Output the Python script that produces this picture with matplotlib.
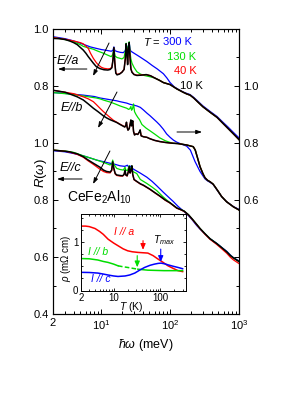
import matplotlib
matplotlib.use('Agg')
import matplotlib.pyplot as plt
from matplotlib.ticker import FixedLocator, FixedFormatter, NullFormatter, LogLocator, MultipleLocator

plt.rcParams['font.family'] = ['Liberation Sans', 'DejaVu Sans']
plt.rcParams['mathtext.fontset'] = 'custom'
plt.rcParams['mathtext.rm'] = 'Liberation Sans'
plt.rcParams['mathtext.it'] = 'Liberation Sans:italic'
plt.rcParams['mathtext.bf'] = 'Liberation Sans:bold'
plt.rcParams['mathtext.fallback'] = 'stixsans'

# ---------------- data: reflectivity spectra ----------------
temps = ['300 K', '130 K', '40 K', '10 K']
colors = ['#0000ff', '#00dd00', '#ff0000', '#000000']

# E // a
wa_tail = [100, 125, 155, 175, 195, 220, 250, 300, 380, 480, 590, 700, 830, 1000]
Ra_tail = [0.805, 0.79, 0.778, 0.772, 0.768, 0.758, 0.745, 0.727, 0.708, 0.69, 0.668, 0.65, 0.632, 0.612]

wa_300 = [2, 3, 4, 5, 6, 7, 8.5, 10, 12, 14, 14.8, 15.3, 15.8, 17, 19, 21, 22.5, 23, 23.6, 24.2, 24.8, 25.5,
          26.2, 27, 30, 36, 46, 55, 65, 80, 90, 100, 115, 130, 155, 175, 195, 220, 250, 300, 380, 480, 590,
          700, 830, 1000]
Ra_300 = [0.973, 0.966, 0.958, 0.95, 0.943, 0.937, 0.932, 0.928, 0.925, 0.922, 0.925, 0.937, 0.924, 0.921,
          0.918, 0.917, 0.925, 0.945, 0.935, 0.925, 0.94, 0.953, 0.93, 0.922, 0.915, 0.903, 0.886, 0.872,
          0.86, 0.843, 0.828, 0.812, 0.797, 0.789, 0.779, 0.774, 0.77, 0.76, 0.748, 0.73, 0.711, 0.693,
          0.672, 0.655, 0.637, 0.618]

wa_130 = [2, 3, 4, 5, 5.5, 6.5, 7.7, 9, 10.8, 12.5, 14, 14.7, 15.3, 15.9, 17, 18.8, 20, 21.5, 22.5, 23, 23.6,
          24.2, 24.8, 25.5, 26.2, 27, 28, 30, 33, 37, 42, 50, 60, 70, 80]
Ra_130 = [0.970, 0.963, 0.955, 0.945, 0.939, 0.934, 0.929, 0.922, 0.915, 0.908, 0.903, 0.91, 0.93, 0.905,
          0.9, 0.897, 0.895, 0.9, 0.925, 0.95, 0.935, 0.91, 0.94, 0.955, 0.92, 0.895, 0.88, 0.865, 0.85,
          0.842, 0.837, 0.833, 0.828, 0.82, 0.812]

wa_40 = [2, 3, 4, 5, 5.5, 6, 6.5, 7, 7.7, 8.5, 9.1, 10, 11, 12.5, 13.5, 14.3, 14.8, 15.3, 15.8, 16.3, 17,
         18.5, 20, 21.5, 22.5, 23, 23.6, 24.2, 24.8, 25.5, 26.2, 27, 28, 30, 33, 38, 45, 52, 60, 70, 80]
Ra_40 = [0.970, 0.964, 0.958, 0.952, 0.948, 0.94, 0.932, 0.915, 0.897, 0.882, 0.874, 0.866, 0.862, 0.86,
         0.861, 0.866, 0.89, 0.932, 0.88, 0.847, 0.841, 0.843, 0.849, 0.858, 0.9, 0.945, 0.92, 0.877, 0.93,
         0.95, 0.9, 0.86, 0.849, 0.841, 0.838, 0.839, 0.84, 0.836, 0.828, 0.82, 0.812]

wa_10 = [2, 2.5, 3, 3.5, 4, 4.5, 5, 5.5, 6, 6.5, 7, 7.7, 8.5, 9.6, 11, 12.5, 13.5, 14.3, 14.8, 15.3, 15.8,
         16.3, 17, 18.5, 20, 21.5, 22.5, 23, 23.6, 24.2, 24.8, 25.5, 26.2, 27, 28, 30, 33, 38, 45, 52, 60,
         70, 80]
Ra_10 = [0.967, 0.966, 0.963, 0.958, 0.952, 0.945, 0.935, 0.926, 0.915, 0.903, 0.893, 0.88, 0.868, 0.861,
         0.857, 0.856, 0.858, 0.864, 0.89, 0.935, 0.88, 0.845, 0.839, 0.842, 0.848, 0.858, 0.9, 0.948, 0.92,
         0.875, 0.93, 0.952, 0.9, 0.86, 0.848, 0.84, 0.837, 0.838, 0.84, 0.836, 0.828, 0.82, 0.812]

# E // b
wb_tail = [111, 130, 174, 217, 232, 250, 272, 300, 321, 350, 380, 420, 450, 500, 560, 660, 830, 1000]
Rb_tail = [0.799, 0.798, 0.793, 0.787, 0.775, 0.748, 0.717, 0.692, 0.678, 0.669, 0.664, 0.656, 0.646, 0.63,
           0.612, 0.594, 0.576, 0.565]

wb_300 = [2, 3, 4, 5.5, 8, 9.6, 13.4, 16.8, 18.8, 23.5, 26, 29.5, 33, 37, 41, 46, 51, 64, 71, 80, 89, 100,
          112, 125, 150, 174, 197, 230, 272, 321, 350, 380, 420, 450, 500, 560, 660, 830, 1000]
Rb_300 = [0.977, 0.974, 0.971, 0.968, 0.963, 0.958, 0.952, 0.948, 0.945, 0.94, 0.936, 0.933, 0.93, 0.925,
          0.916, 0.905, 0.896, 0.874, 0.863, 0.848, 0.832, 0.82, 0.81, 0.803, 0.795, 0.789, 0.775, 0.735,
          0.70, 0.674, 0.667, 0.662, 0.655, 0.645, 0.629, 0.612, 0.594, 0.577, 0.567]

wb_130 = [2, 3, 4, 5.5, 7, 8.5, 9.6, 11, 13.4, 16, 18.8, 21, 23.5, 25, 26, 27, 27.6, 28.5, 29.5, 30.5, 32,
          34, 36, 39, 45, 51, 60, 71, 85, 100]
Rb_130 = [0.977, 0.973, 0.97, 0.965, 0.961, 0.958, 0.955, 0.95, 0.944, 0.937, 0.93, 0.926, 0.922, 0.918,
          0.92, 0.928, 0.915, 0.92, 0.937, 0.91, 0.9, 0.89, 0.882, 0.865, 0.852, 0.843, 0.831, 0.818, 0.808,
          0.802]

wb_40 = [2, 3, 4, 5.5, 6.5, 7.7, 8.5, 9.6, 10.8, 12, 13.4, 15, 16.8, 18.8, 20.5, 22, 22.8, 23.3, 23.8, 24.5,
         25.5, 26.5, 27, 27.6, 28.2, 28.7, 29.5, 30.5, 32, 34, 36, 36.8, 38, 41, 46, 51, 60, 71, 85, 100]
Rb_40 = [0.985, 0.978, 0.973, 0.962, 0.955, 0.945, 0.935, 0.922, 0.91, 0.9, 0.89, 0.88, 0.873, 0.866, 0.861,
         0.857, 0.862, 0.872, 0.856, 0.846, 0.851, 0.869, 0.879, 0.861, 0.87, 0.876, 0.841, 0.829, 0.832,
         0.83, 0.839, 0.845, 0.826, 0.822, 0.82, 0.815, 0.809, 0.805, 0.802, 0.80]

wb_10 = [2, 3, 3.5, 4.5, 5.5, 6.5, 7.7, 9, 10.8, 12, 13.4, 15, 16.8, 18.8, 20.5, 22, 22.8, 23.3, 23.8, 24.5,
         25.5, 26.5, 27, 27.6, 28.2, 28.7, 29.5, 30.5, 32, 34, 36, 36.8, 38, 41, 46, 51, 60, 71, 85, 100]
Rb_10 = [0.985, 0.978, 0.972, 0.962, 0.951, 0.937, 0.922, 0.91, 0.895, 0.888, 0.882, 0.877, 0.872, 0.865,
         0.86, 0.856, 0.862, 0.873, 0.855, 0.845, 0.85, 0.87, 0.881, 0.86, 0.87, 0.878, 0.84, 0.828, 0.832,
         0.83, 0.84, 0.846, 0.825, 0.822, 0.82, 0.815, 0.809, 0.805, 0.802, 0.80]

# E // c
wc_tail = [100, 125, 141, 160, 185, 210, 244, 272, 320, 380, 475, 560, 664, 750, 828, 1000]
Rc_tail = [0.79, 0.772, 0.767, 0.761, 0.748, 0.733, 0.714, 0.70, 0.682, 0.664, 0.647, 0.633, 0.618, 0.605,
           0.597, 0.584]
Rc_tail_40 = [0.789, 0.771, 0.766, 0.76, 0.747, 0.732, 0.713, 0.699, 0.68, 0.662, 0.644, 0.629, 0.613,
              0.599, 0.59, 0.577]

wc_300 = [2, 3, 4, 5.5, 7, 8.6, 11, 13.4, 16, 18.8, 22, 24, 25, 26, 28, 30, 36.6, 46, 55, 64, 80, 100, 111,
          130, 155, 185, 210, 244, 272, 320, 380, 475, 560, 664, 750, 828, 1000]
Rc_300 = [0.973, 0.969, 0.963, 0.955, 0.947, 0.94, 0.934, 0.929, 0.925, 0.92, 0.918, 0.922, 0.916, 0.92,
          0.912, 0.907, 0.895, 0.88, 0.865, 0.85, 0.827, 0.805, 0.795, 0.778, 0.762, 0.745, 0.73, 0.71,
          0.698, 0.681, 0.664, 0.648, 0.634, 0.62, 0.607, 0.598, 0.586]

wc_130 = [2, 3, 4, 5.5, 7.7, 10.8, 13.4, 14.2, 14.7, 15.3, 16.8, 18.8, 21, 22.2, 22.8, 24, 25.6, 26.3, 27.9,
          28.7, 32.8, 37, 46, 55, 64, 80]
Rc_130 = [0.975, 0.972, 0.967, 0.955, 0.944, 0.932, 0.923, 0.926, 0.94, 0.925, 0.911, 0.907, 0.905, 0.915,
          0.905, 0.903, 0.92, 0.905, 0.92, 0.9, 0.893, 0.872, 0.858, 0.845, 0.833, 0.81]

wc_10 = [2, 3, 3.5, 4.5, 5.5, 6.5, 7.7, 9.6, 10.8, 12, 13.5, 14.2, 14.7, 15.3, 16, 16.8, 18.8, 20.5, 21.5,
         22.2, 22.8, 23.8, 24.8, 25.6, 26.3, 27.2, 27.9, 28.7, 30, 33, 37, 41, 51, 60, 71, 85]
Rc_40 = [0.975, 0.971, 0.968, 0.96, 0.95, 0.937, 0.925, 0.908, 0.9, 0.896, 0.895, 0.903, 0.93, 0.908, 0.891,
         0.886, 0.884, 0.884, 0.889, 0.903, 0.887, 0.884, 0.899, 0.914, 0.894, 0.903, 0.917, 0.889, 0.871,
         0.864, 0.856, 0.851, 0.837, 0.825, 0.813, 0.799]
Rc_10 = [0.975, 0.971, 0.969, 0.962, 0.952, 0.94, 0.929, 0.915, 0.905, 0.9, 0.898, 0.905, 0.934, 0.91, 0.893,
         0.888, 0.886, 0.885, 0.89, 0.905, 0.888, 0.885, 0.9, 0.917, 0.895, 0.905, 0.92, 0.89, 0.872, 0.865,
         0.857, 0.852, 0.838, 0.826, 0.814, 0.80]

# ---------------- data: inset resistivity ----------------
T_a = [2, 2.5, 3, 4, 5, 6, 7.6, 10, 12.4, 16, 20, 25, 33, 42, 54, 70, 89, 115, 146, 190, 239, 300]
rho_a = [1.33, 1.33, 1.32, 1.28, 1.22, 1.16, 1.06, 0.98, 0.925, 0.86, 0.82, 0.80, 0.787, 0.78, 0.773, 0.72,
         0.65, 0.58, 0.51, 0.455, 0.41, 0.39]
T_b = [2, 3, 4.6, 6, 7.6, 10, 12.4, 16, 20, 25, 33, 42, 54, 80, 120, 200, 300]
rho_b = [0.66, 0.655, 0.63, 0.60, 0.58, 0.545, 0.51, 0.49, 0.476, 0.46, 0.44, 0.43, 0.42, 0.415, 0.41, 0.41,
         0.41]
T_c = [2, 3, 4.6, 6, 7.6, 10, 12.4, 17.6, 22, 28.4, 36, 46, 60, 75, 90, 104, 125, 146, 190, 239, 300]
rho_c = [0.375, 0.372, 0.36, 0.34, 0.32, 0.30, 0.29, 0.30, 0.32, 0.36, 0.42, 0.476, 0.52, 0.545, 0.56, 0.565,
         0.55, 0.53, 0.50, 0.476, 0.45]

# ---------------- figure ----------------
W, H = 307, 398
def fx(px):
    return px / W
def fy(py):
    return 1 - py / H

fig = plt.figure(figsize=(W / 100, H / 100), dpi=100)
ax = fig.add_axes([fx(53), fy(314), 186 / W, 285 / H])

offset_a, offset_b, offset_c = 0.4, 0.2, 0.0
curves_a = [(wa_300, Ra_300), (wa_130 + wa_tail, Ra_130 + Ra_tail), (wa_40 + wa_tail, Ra_40 + Ra_tail),
            (wa_10 + wa_tail, Ra_10 + Ra_tail)]
curves_b = [(wb_300, Rb_300), (wb_130 + wb_tail, Rb_130 + Rb_tail), (wb_40 + wb_tail, Rb_40 + Rb_tail),
            (wb_10 + wb_tail, Rb_10 + Rb_tail)]
curves_c = [(wc_300, Rc_300), (wc_130 + wc_tail, Rc_130 + Rc_tail), (wc_10 + wc_tail, Rc_40 + Rc_tail_40),
            (wc_10 + wc_tail, Rc_10 + Rc_tail)]
lws = [0.9, 0.9, 0.9, 1.1]
for curves, off in [(curves_a, offset_a), (curves_b, offset_b), (curves_c, offset_c)]:
    for (w, r), col, lw in zip(curves, colors, lws):
        ax.plot(w, [v + off for v in r], color=col, lw=lw, solid_joinstyle='round')

ax.set_xscale('log')
ax.set_xlim(2, 1000)
ax.set_ylim(0.4, 1.4)
ax.xaxis.set_major_locator(FixedLocator([2, 10, 100, 1000]))
ax.xaxis.set_major_formatter(FixedFormatter(['2', '$10^1$', '$10^2$', '$10^3$']))
ax.xaxis.set_minor_locator(LogLocator(base=10, subs=[2, 3, 4, 5, 6, 7, 8, 9], numticks=20))
ax.xaxis.set_minor_formatter(NullFormatter())
ax.set_yticks([0.4, 0.6, 0.8, 1.0, 1.2, 1.4])
ax.set_yticklabels(['0.4', '0.6', '0.8', '1.0', '0.8', '1.0'])
ax.yaxis.set_minor_locator(MultipleLocator(0.1))
ax.tick_params(which='both', direction='in', top=True, right=False, labelsize=8, width=0.7, pad=3)
ax.tick_params(which='major', length=3.5)
ax.tick_params(which='minor', length=2)
for s in ax.spines.values():
    s.set_linewidth(0.8)

ax2 = ax.twinx()
ax2.set_ylim(0.4, 1.4)
ax2.set_yticks([0.4, 0.6, 0.8, 1.0, 1.2, 1.4])
ax2.set_yticklabels(['', '', '0.6', '0.8', '1.0', ''])
ax2.yaxis.set_minor_locator(MultipleLocator(0.1))
ax2.tick_params(which='both', direction='in', labelsize=8, width=0.7, pad=3)
ax2.tick_params(which='major', length=3.5)
ax2.tick_params(which='minor', length=2)

# axis labels
fig.text(fx(41), fy(173), '$R$($ω$)', rotation=90, ha='center', va='center', fontsize=9.5)
fig.text(fx(146), fy(345), '$ħω$ (meV)', ha='center', va='center', fontsize=9)

# temperature legend
ax.text(40.5, 1.354, '$T$ = ', color='k', fontsize=8, ha='left', va='center')
ax.text(79, 1.354, temps[0], color=colors[0], fontsize=8, ha='left', va='center')
ax.text(90, 1.3007, temps[1], color=colors[1], fontsize=8, ha='left', va='center')
ax.text(114, 1.2526, temps[2], color=colors[2], fontsize=8, ha='left', va='center')
ax.text(139, 1.2, temps[3], color=colors[3], fontsize=8, ha='left', va='center')

# polarisation labels and arrows
ax.text(2.28, 1.2877, 'E//a', style='italic', fontsize=9, ha='left', va='center')
ax.text(2.61, 1.1228, 'E//b', style='italic', fontsize=9, ha='left', va='center')
ax.text(2.53, 0.9123, 'E//c', style='italic', fontsize=9, ha='left', va='center')
ax.text(3.19, 0.8105, 'CeFe$_2$Al$_{10}$', fontsize=10, ha='left', va='center')

aprops = dict(arrowstyle='-|>,head_length=0.35,head_width=0.12', color='k', lw=0.7, shrinkA=0, shrinkB=0)
ax.annotate('', xy=(2.36, 1.2596), xytext=(6.2, 1.2596), arrowprops=aprops)
ax.annotate('', xy=(291, 1.0386), xytext=(126, 1.0386), arrowprops=aprops)
ax.annotate('', xy=(2.29, 0.8737), xytext=(5.27, 0.8737), arrowprops=aprops)
ax.annotate('', xy=(7.62, 1.2351), xytext=(13.0, 1.3509), arrowprops=aprops)
ax.annotate('', xy=(9.0, 1.0526), xytext=(16.96, 1.1789), arrowprops=aprops)
ax.annotate('', xy=(7.62, 0.8561), xytext=(13.4, 0.9719), arrowprops=aprops)

# ---------------- inset ----------------
axi = fig.add_axes([fx(81), fy(290.5), 104.5 / W, 76.5 / H])
axi.set_facecolor('white')
axi.plot(T_a, rho_a, color='#ff0000', lw=1.1)
i1, i2 = 6, 10
axi.plot(T_b[:i1 + 1], rho_b[:i1 + 1], color='#00dd00', lw=1.1)
axi.plot(T_b[i1:i2 + 1], rho_b[i1:i2 + 1], color='#00dd00', lw=1.1, ls=(0, (3, 1.5)))
axi.plot(T_b[i2:], rho_b[i2:], color='#00dd00', lw=1.1)
axi.plot(T_c, rho_c, color='#0000ff', lw=1.1)
axi.set_xscale('log')
axi.set_xlim(2, 346)
axi.set_ylim(0, 1.58)
axi.xaxis.set_major_locator(FixedLocator([2, 10, 100]))
axi.xaxis.set_major_formatter(FixedFormatter(['2', '10', '100']))
axi.xaxis.set_minor_locator(LogLocator(base=10, subs=[2, 3, 4, 5, 6, 7, 8, 9], numticks=20))
axi.xaxis.set_minor_formatter(NullFormatter())
axi.set_yticks([0, 1])
axi.yaxis.set_minor_locator(MultipleLocator(0.25))
axi.tick_params(which='both', direction='in', top=True, right=True, labelsize=7, width=0.6, pad=2)
axi.tick_params(which='major', length=2.5)
axi.tick_params(which='minor', length=1.5)
for s in axi.spines.values():
    s.set_linewidth(0.7)

fig.text(fx(131), fy(307), '$T$ (K)', ha='center', va='center', fontsize=7.5)
fig.text(fx(66), fy(258), '$ρ$ (mΩ cm)', rotation=90, ha='center', va='center', fontsize=7)

axi.text(16.7, 1.20, 'I // a', color='#ff0000', style='italic', fontsize=7.5, ha='center', va='center')
axi.text(4.62, 0.787, 'I // b', color='#00dd00', style='italic', fontsize=7.5, ha='center', va='center')
axi.text(5.37, 0.228, 'I // c', color='#0000ff', style='italic', fontsize=7.5, ha='center', va='center')
axi.text(119, 1.035, '$T_{max}$', color='k', fontsize=7.5, ha='center', va='center')

def iarrow(col, x, y0, y1):
    axi.annotate('', xy=(x, y1), xytext=(x, y0),
                 arrowprops=dict(arrowstyle='-|>,head_length=0.35,head_width=0.15', color=col, lw=0.8,
                                 shrinkA=0, shrinkB=0))
iarrow('#ff0000', 42.6, 1.03, 0.84)
iarrow('#00dd00', 32, 0.72, 0.48)
iarrow('#0000ff', 102, 0.855, 0.59)

fig.savefig('out.png', dpi=100)
